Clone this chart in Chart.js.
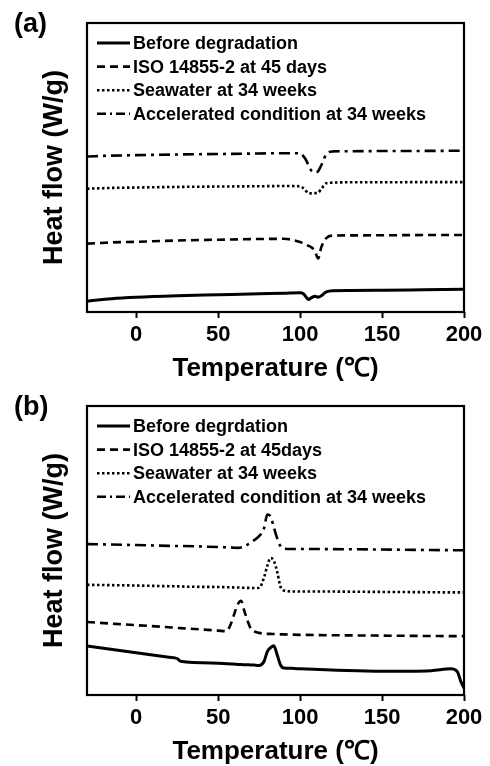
<!DOCTYPE html>
<html>
<head>
<meta charset="utf-8">
<script src="https://cdn.jsdelivr.net/npm/chart.js@4.4.0/dist/chart.umd.min.js"></script>
<style>
  body { margin: 0; background: #fff; }
  #wrap { position: relative; width: 490px; height: 766px; }
  canvas { position: absolute; left: 0; }
  .tag { position: absolute; left: 14px; font: bold 27px "Liberation Sans", Arial, sans-serif; line-height: 27px; color: #000; }
</style>
</head>
<body>
<div id="wrap">
  <canvas id="chartA" width="490" height="383" style="top:0"></canvas>
  <canvas id="chartB" width="490" height="383" style="top:383px"></canvas>
  <div class="tag" style="top:10px">(a)</div>
  <div class="tag" style="top:393px">(b)</div>
</div>
<script>
// x axis
var xTicks = [0, 50, 100, 150, 200];

// panel (a) - temperature (C) and heat flow (arbitrary, curves offset)
var tempA = [-30, -15, 0, 25, 50, 75, 90, 100, 102, 104, 105, 107, 109, 111, 113, 116, 120, 130, 150, 175, 200];
var beforeA = [1.1, 1.35, 1.5, 1.65, 1.75, 1.85, 1.9, 1.95, 1.85, 1.45, 1.27, 1.45, 1.6, 1.5, 1.65, 2.03, 2.15, 2.17, 2.2, 2.25, 2.3];
var isoA = [6.93, 7.05, 7.12, 7.25, 7.33, 7.4, 7.42, 7.1, 6.95, 6.8, 6.72, 6.55, 6.2, 5.43, 6.6, 7.5, 7.75, 7.77, 7.78, 7.8, 7.8];
var seaA = [12.5, 12.58, 12.62, 12.68, 12.72, 12.75, 12.77, 12.75, 12.55, 12.2, 12.05, 12.03, 12.05, 12.1, 12.5, 13.05, 13.12, 13.15, 13.15, 13.17, 13.17];
var accA = [15.77, 15.85, 15.9, 15.97, 16.02, 16.07, 16.1, 16.1, 15.8, 15.3, 14.9, 14.3, 14.15, 14.27, 14.9, 16.0, 16.28, 16.3, 16.32, 16.33, 16.35];
var labelsA = ["Before degradation", "ISO 14855-2 at 45 days", "Seawater at 34 weeks", "Accelerated condition at 34 weeks"];

// panel (b)
var tempB = [-30, 0, 20, 25, 27, 50, 55, 58, 60, 62, 64, 66, 68, 70, 72, 75, 78, 80, 82, 84, 86, 88, 90, 95, 100, 150, 180, 192, 196, 198, 200];
var beforeB = [4.97, 4.29, 3.83, 3.7, 3.42, 3.23, 3.18, 3.15, 3.12, 3.1, 3.08, 3.07, 3.06, 3.05, 3.03, 3.0, 3.4, 4.4, 4.8, 5.0, 4.07, 3.07, 2.73, 2.7, 2.65, 2.4, 2.47, 2.65, 2.35, 1.4, 0.7];
var isoB = [7.4, 7.08, 6.87, 6.8, 6.78, 6.53, 6.47, 7.3, 8.3, 9.2, 9.55, 8.5, 7.5, 6.7, 6.45, 6.3, 6.22, 6.2, 6.2, 6.18, 6.17, 6.15, 6.15, 6.12, 6.1, 6.02, 5.98, 5.97, 5.97, 5.97, 5.97];
var seaB = [11.17, 11.1, 11.03, 11.02, 11.0, 10.95, 10.93, 10.92, 10.9, 10.9, 10.88, 10.87, 10.86, 10.85, 10.85, 10.87, 11.9, 13.1, 13.9, 13.6, 12.5, 11.0, 10.6, 10.5, 10.5, 10.45, 10.42, 10.4, 10.4, 10.4, 10.4];
var accB = [15.3, 15.2, 15.12, 15.1, 15.1, 15.0, 14.97, 14.95, 14.93, 14.92, 14.95, 15.05, 15.25, 15.45, 15.7, 16.1, 16.9, 18.3, 18.1, 17.0, 15.9, 15.1, 14.85, 14.8, 14.8, 14.75, 14.7, 14.68, 14.67, 14.67, 14.67];
var labelsB = ["Before degrdation", "ISO 14855-2 at 45days", "Seawater at 34 weeks", "Accelerated condition at 34 weeks"];

var dashes = [[], [8, 5], [2.5, 2.5], [11, 5, 3, 5]];
var widths = [3, 2.6, 2.6, 2.6];

var family = '"Liberation Sans", Arial, sans-serif';
Chart.defaults.font.family = family;
Chart.defaults.color = "#000";

// frame around the plot
var framePlugin = {
  id: "frame",
  afterDraw: function (chart) {
    var a = chart.chartArea;
    var ctx = chart.ctx;
    ctx.save();
    ctx.strokeStyle = "#000";
    ctx.lineWidth = 2.2;
    ctx.strokeRect(a.left, a.top, a.right - a.left, a.bottom - a.top);
    ctx.restore();
  }
};

// legend inside the plot, upper left
var innerLegend = {
  id: "innerLegend",
  afterDraw: function (chart) {
    var a = chart.chartArea;
    var ctx = chart.ctx;
    ctx.save();
    ctx.font = "bold 18px " + family;
    ctx.textBaseline = "middle";
    ctx.fillStyle = "#000";
    ctx.strokeStyle = "#000";
    chart.data.datasets.forEach(function (ds, i) {
      var y = a.top + 20 + i * 23.6;
      ctx.lineWidth = ds.borderWidth;
      ctx.setLineDash(i === 3 ? [9, 4, 2, 4] : ds.borderDash);
      ctx.beginPath();
      ctx.moveTo(a.left + 10, y);
      ctx.lineTo(a.left + 43, y);
      ctx.stroke();
      ctx.setLineDash([]);
      ctx.fillText(ds.label, a.left + 46, y + 1);
    });
    ctx.restore();
  }
};

function makeChart(id, temps, series, labels) {
  var datasets = series.map(function (vals, i) {
    return {
      label: labels[i],
      data: temps.map(function (t, j) { return { x: t, y: vals[j] }; }),
      borderColor: "#000",
      borderWidth: widths[i],
      borderDash: dashes[i],
      pointRadius: 0,
      cubicInterpolationMode: "monotone",
      fill: false
    };
  });

  return new Chart(document.getElementById(id), {
    type: "line",
    data: { datasets: datasets },
    options: {
      responsive: false,
      animation: false,
      devicePixelRatio: 1,
      layout: { padding: { left: 38.8, right: 26, top: 23, bottom: 0 } },
      plugins: { legend: { display: false }, tooltip: { enabled: false } },
      scales: {
        x: {
          type: "linear",
          min: -30,
          max: 200,
          afterBuildTicks: function (scale) {
            scale.ticks = xTicks.map(function (v) { return { value: v }; });
          },
          grid: { display: true, drawOnChartArea: false, drawTicks: true, tickLength: 6, tickWidth: 2, color: "#000" },
          border: { display: false },
          ticks: { color: "#000", font: { size: 22, weight: "bold" }, padding: 4, maxRotation: 0, autoSkip: false },
          title: {
            display: true,
            text: "Temperature (\u2103)",
            color: "#000",
            font: { size: 26, weight: "bold", lineHeight: 1.1 },
            padding: { top: 2, bottom: 0 }
          }
        },
        y: {
          min: 0,
          max: 29.3,
          ticks: { display: false },
          grid: { display: false, drawTicks: false },
          border: { display: false },
          title: {
            display: true,
            text: "Heat flow (W/g)",
            color: "#000",
            font: { size: 27, weight: "bold", lineHeight: 1.2 },
            padding: { top: 0, bottom: 15.8 }
          }
        }
      }
    },
    plugins: [framePlugin, innerLegend]
  });
}

makeChart("chartA", tempA, [beforeA, isoA, seaA, accA], labelsA);
makeChart("chartB", tempB, [beforeB, isoB, seaB, accB], labelsB);
</script>
</body>
</html>
